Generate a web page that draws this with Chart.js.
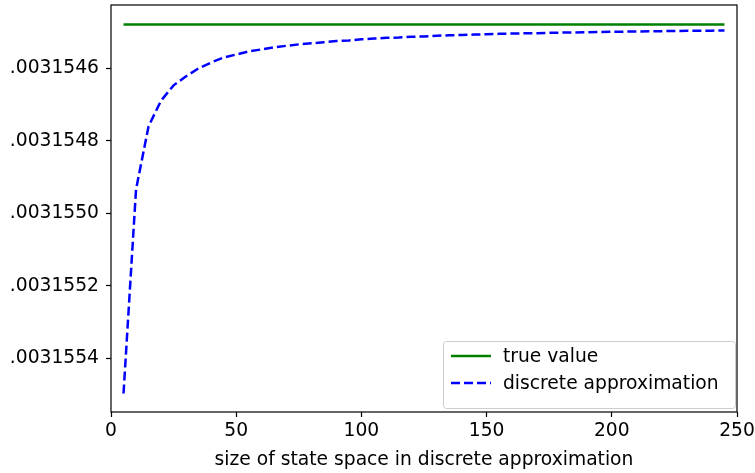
<!DOCTYPE html>
<html>
<head>
<meta charset="utf-8">
<script src="https://cdn.jsdelivr.net/npm/chart.js@4"></script>
<style>
  html, body { margin: 0; padding: 0; background: #fff; }
  #wrap { width: 755px; height: 473px; }
</style>
</head>
<body>
<div id="wrap"><canvas id="myChart" width="755" height="473"></canvas></div>
<script>
// size of state space (x)
const sizes = [5, 10, 15, 20, 25, 30, 35, 40, 45, 50, 55, 60, 65, 70, 75, 80, 85, 90, 95, 100,
  105, 110, 115, 120, 125, 130, 135, 140, 145, 150, 155, 160, 165, 170, 175, 180, 185, 190, 195, 200,
  205, 210, 215, 220, 225, 230, 235, 240, 245];

// discrete approximation
const approx = [0.0031554970, 0.0031549340, 0.0031547600, 0.0031546890, 0.0031546470, 0.0031546220,
  0.0031546000, 0.0031545840, 0.0031545700, 0.0031545620, 0.0031545535, 0.0031545480, 0.0031545420,
  0.0031545380, 0.0031545340, 0.0031545310, 0.0031545280, 0.0031545250, 0.0031545230, 0.0031545200,
  0.0031545180, 0.0031545160, 0.0031545150, 0.0031545130, 0.0031545120, 0.0031545100, 0.0031545090,
  0.0031545080, 0.0031545070, 0.0031545060, 0.0031545050, 0.0031545040, 0.0031545035, 0.0031545030,
  0.0031545020, 0.0031545015, 0.0031545010, 0.0031545005, 0.0031545000, 0.0031544994, 0.0031544989,
  0.0031544983, 0.0031544980, 0.0031544975, 0.0031544970, 0.0031544967, 0.0031544964, 0.0031544961,
  0.0031544956];

const trueValue = 0.0031544790;

const yTicks = [0.0031546, 0.0031548, 0.0031550, 0.0031552, 0.0031554];
const yTickLabels = ['.0031546', '.0031548', '.0031550', '.0031552', '.0031554'];
const xTicks = [0, 50, 100, 150, 200, 250];

const FONT = 'DejaVu Sans';
const FSIZE = 18.7;

// matplotlib-like frame + legend inside the axes
const framePlugin = {
  id: 'frame',
  afterDraw(chart) {
    const ctx = chart.ctx;
    const a = chart.chartArea;
    ctx.save();
    ctx.strokeStyle = '#000';
    ctx.lineWidth = 1.2;
    ctx.strokeRect(a.left, a.top, a.right - a.left, a.bottom - a.top);

    // legend box
    const ds = chart.data.datasets;
    const w = 292, h = 67;
    const bx = a.right - 2 - w, by = a.bottom - 4 - h;
    ctx.fillStyle = 'rgba(255,255,255,0.8)';
    ctx.strokeStyle = '#ccc';
    ctx.lineWidth = 1;
    ctx.beginPath();
    ctx.roundRect(bx + 0.5, by + 0.5, w, h, 3);
    ctx.fill();
    ctx.stroke();
    ctx.font = FSIZE + 'px ' + FONT;
    ctx.textBaseline = 'middle';
    ds.forEach((d, i) => {
      const yy = by + 15 + i * 27;
      ctx.strokeStyle = d.borderColor;
      ctx.lineWidth = d.borderWidth;
      ctx.setLineDash(d.borderDash || []);
      ctx.beginPath();
      ctx.moveTo(bx + 8, yy);
      ctx.lineTo(bx + 48, yy);
      ctx.stroke();
      ctx.setLineDash([]);
      ctx.fillStyle = '#000';
      ctx.fillText(d.label, bx + 60, yy + 1);
    });
    ctx.restore();
  }
};

let plot = () => {
  const ctx = document.getElementById('myChart');
  const dataset = {
    datasets: [{
      label: 'true value',
      data: sizes.map(n => ({ x: n, y: trueValue })),
      borderColor: '#008000',
      borderWidth: 2.5,
      pointRadius: 0,
      fill: false
    }, {
      label: 'discrete approximation',
      data: sizes.map((n, i) => ({ x: n, y: approx[i] })),
      borderColor: '#0000ff',
      borderWidth: 2.5,
      borderDash: [9, 4],
      pointRadius: 0,
      fill: false,
      tension: 0
    }]
  };
  const config = {
    type: 'line',
    data: dataset,
    options: {
      responsive: false,
      animation: false,
      layout: { padding: { top: 5, right: 18, left: 0, bottom: 0 } },
      plugins: { legend: { display: false }, tooltip: { enabled: false } },
      scales: {
        x: {
          type: 'linear',
          min: 0,
          max: 250,
          afterBuildTicks: (s) => { s.ticks = xTicks.map(v => ({ value: v })); },
          afterFit: (s) => { s.height = 61; s.paddingLeft = 0; s.paddingRight = 0; },
          grid: { drawOnChartArea: false, drawTicks: true, tickLength: 5, tickColor: '#000', tickWidth: 1.2 },
          border: { display: false },
          ticks: { color: '#000', font: { family: FONT, size: FSIZE }, padding: 3, maxRotation: 0 },
          title: {
            display: true,
            text: 'size of state space in discrete approximation',
            color: '#000',
            font: { family: FONT, size: FSIZE },
            padding: { top: 0, bottom: 2 }
          }
        },
        y: {
          type: 'linear',
          reverse: true,
          min: 0.0031544254,
          max: 0.0031555481,
          afterBuildTicks: (s) => { s.ticks = yTicks.map(v => ({ value: v })); },
          afterFit: (s) => { s.width = 111; s.paddingTop = 0; s.paddingBottom = 0; },
          grid: { drawOnChartArea: false, drawTicks: true, tickLength: 5, tickColor: '#000', tickWidth: 1.2 },
          border: { display: false },
          ticks: {
            color: '#000',
            font: { family: FONT, size: FSIZE },
            padding: 7,
            callback: (v) => {
              const i = yTicks.findIndex(t => Math.abs(t - v) < 1e-12);
              return i >= 0 ? yTickLabels[i] : '';
            }
          }
        }
      }
    },
    plugins: [framePlugin]
  };
  const chart = new Chart(ctx, config);
};

plot();
</script>
</body>
</html>
